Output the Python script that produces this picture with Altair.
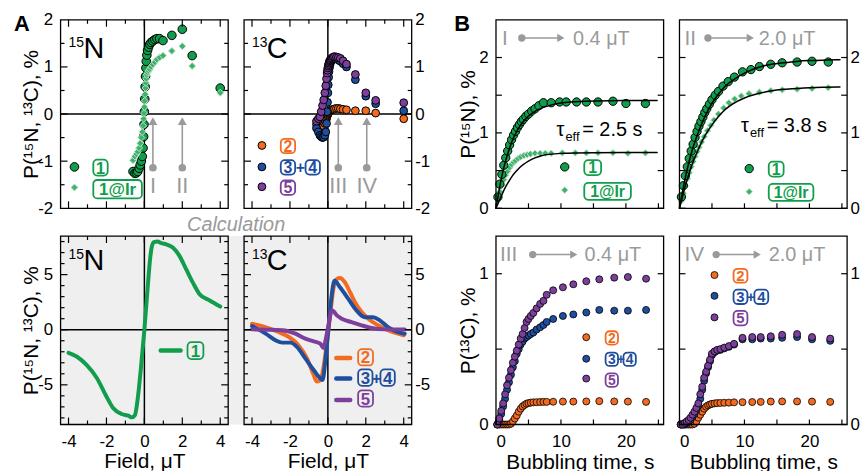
import altair as alt
import pandas as pd

# ======================= DATA =======================
# Panel A (experiment): magnetic field sweep, uT
a_field = [-0.6, -0.5, -0.42, -0.35, -0.28, -0.22, -0.16, -0.11, -0.07, -0.04, -0.02, 0.0,
           0.02, 0.04, 0.06, 0.08, 0.1, 0.13, 0.17, 0.22, 0.28, 0.35, 0.45, 0.55, 0.66, 0.8,
           0.98, 1.45, 2.0, 2.52, 4.0]
a_n15_1 = [-1.22, -1.26, -1.25, -1.22, -1.15, -1.08, -1.0, -0.9, -0.72, -0.48, -0.22, 0.05,
           0.32, 0.58, 0.8, 0.98, 1.12, 1.25, 1.35, 1.42, 1.48, 1.52, 1.55, 1.58, 1.6, 1.6,
           1.56, 1.67, 1.8, 1.24, 0.55]
a_n15_1ir = [-0.98, -0.9, -0.85, -0.8, -0.72, -0.62, -0.5, -0.38, -0.25, -0.1, 0.02, 0.15,
             0.28, 0.42, 0.55, 0.66, 0.75, 0.83, 0.88, 0.92, 0.95, 1.0, 1.05, 1.1, 1.16, 1.2,
             1.24, 1.34, 1.44, 1.02, 0.45]
a_c13_2 = [-0.22, -0.28, -0.3, -0.3, -0.28, -0.25, -0.2, -0.15, -0.1, -0.05, -0.02, 0.0,
           0.02, 0.04, 0.05, 0.06, 0.06, 0.07, 0.08, 0.09, 0.1, 0.11, 0.12, 0.12, 0.11, 0.1,
           0.09, 0.07, 0.07, 0.02, -0.1]
a_c13_34 = [-0.3, -0.38, -0.45, -0.48, -0.5, -0.49, -0.45, -0.38, -0.2, 0.05, 0.25, 0.45,
            0.62, 0.78, 0.9, 0.98, 1.03, 1.08, 1.12, 1.15, 1.17, 1.18, 1.17, 1.15, 1.12, 1.07,
            1.0, 0.73, 0.38, 0.22, 0.07]
a_c13_5 = [-0.15, -0.1, -0.06, 0.05, 0.18, 0.3, 0.45, 0.6, 0.75, 0.87, 0.93, 0.98,
           1.02, 1.05, 1.08, 1.11, 1.13, 1.15, 1.17, 1.19, 1.21, 1.22, 1.21, 1.2, 1.18, 1.13,
           1.06, 0.84, 0.45, 0.29, 0.24]
a_arrow_n15 = [0.45, 2.0]
a_arrow_n15_lab = ["I", "II"]
a_arrow_c13 = [0.55, 2.05]
a_arrow_c13_lab = ["III", "IV"]

# Panel A (calculation)
calc_n15_field = [-4, -3.55, -3.05, -2.5, -2.05, -1.65, -1.2, -0.85, -0.65, -0.5, -0.4, -0.3,
                  -0.2, -0.1, 0, 0.1, 0.2, 0.3, 0.4, 0.5, 0.7, 0.9, 1.15, 1.5, 1.85, 2.2,
                  2.55, 2.9, 3.45, 4]
calc_n15_1 = [-2.1, -2.45, -3.2, -4.4, -5.9, -7.1, -7.65, -7.8, -7.95, -7.75, -6.9, -5.5,
              -3.8, -1.9, 0, 2.2, 4.4, 6.4, 7.6, 7.95, 8.0, 7.85, 7.75, 7.45, 6.7, 5.5,
              4.3, 3.25, 2.65, 2.1]
calc_c13_2_field = [-4, -3.3, -2.6, -2.05, -1.55, -1.1, -0.75, -0.58, -0.4, -0.25, -0.06, 0.12,
                    0.29, 0.47, 0.64, 0.9, 1.17, 1.43, 1.78, 2.13, 2.65, 3.17, 4.0]
calc_c13_2 = [0.54, 0.24, -0.21, -0.66, -1.41, -2.61, -4.1, -4.7, -4.6, -3.6, -1.3, 1.3,
              3.7, 4.6, 4.7, 4.3, 3.4, 2.5, 1.6, 1.0, 0.4, -0.05, -0.5]
calc_c13_34_field = [-4, -3.28, -2.76, -2.41, -1.97, -1.63, -1.19, -0.75, -0.4, -0.28, -0.14,
                     0.03, 0.2, 0.35, 0.64, 1.08, 1.51, 1.95, 2.39, 2.74, 3.17, 3.7, 4.05]
calc_c13_34 = [0.33, -0.36, -0.96, -1.17, -1.17, -1.56, -2.6, -3.66, -4.41, -4.56, -2.9,
               0.1, 3.1, 4.45, 3.85, 2.8, 1.75, 1.14, 1.14, 0.85, 0.24, -0.21, -0.36]
calc_c13_5_field = [-4, -3.28, -2.41, -1.71, -1.19, -0.75, -0.4, -0.23, -0.14, 0.03, 0.17,
                    0.24, 0.47, 0.73, 1.25, 1.78, 2.3, 3.0, 4.05]
calc_c13_5 = [0.03, 0.0, -0.05, -0.36, -0.81, -1.05, -1.26, -1.65, -1.1, 0.4, 1.6,
              1.75, 1.3, 1.0, 0.69, 0.4, 0.15, 0.03, 0.03]

# Panel B, I (0.4 uT), 15N
b1_t_1 = [0.3, 0.6, 0.9, 1.2, 1.5, 1.8, 2.1, 2.4, 2.7, 3.0, 3.3, 3.6, 3.9, 4.2, 4.6, 5.0, 5.5,
          6.0, 6.6, 7.3, 8.5, 9.8, 10.8, 12.4, 13.9, 15.7, 18.0, 20.0, 23.0]
b1_p_1 = [0.15, 0.32, 0.45, 0.57, 0.67, 0.76, 0.84, 0.91, 0.97, 1.02, 1.07, 1.11, 1.15, 1.18,
          1.22, 1.25, 1.29, 1.32, 1.36, 1.40, 1.40, 1.41, 1.41, 1.41, 1.41, 1.41, 1.42, 1.39, 1.39]
b1_t_ir = [0.3, 0.6, 0.9, 1.2, 1.5, 1.8, 2.1, 2.4, 2.7, 3.0, 3.4, 3.8, 4.3, 4.8, 5.3, 6.0, 6.8,
           7.6, 8.5, 10.2, 12.2, 13.9, 15.7, 18.0, 20.3, 23.0]
b1_p_ir = [0.12, 0.22, 0.31, 0.38, 0.44, 0.49, 0.54, 0.58, 0.61, 0.63, 0.66, 0.68, 0.70, 0.71,
           0.72, 0.73, 0.73, 0.73, 0.73, 0.735, 0.735, 0.735, 0.735, 0.735, 0.73, 0.735]
b1_fit_t = [0, 0.5, 1, 1.5, 2, 2.5, 3, 3.5, 4, 5, 6, 7, 8, 10, 12, 15, 20, 24.8]
b1_fit_1 = [0, 0.26, 0.47, 0.64, 0.78, 0.9, 0.99, 1.07, 1.13, 1.23, 1.29, 1.33, 1.36, 1.4,
            1.415, 1.425, 1.43, 1.43]
b1_fit_ir = [0, 0.1, 0.2, 0.29, 0.36, 0.43, 0.48, 0.53, 0.57, 0.63, 0.67, 0.7, 0.715, 0.73,
             0.735, 0.738, 0.74, 0.74]

# Panel B, II (2.0 uT), 15N
b2_t_1 = [0.3, 0.6, 0.9, 1.2, 1.5, 1.8, 2.1, 2.4, 2.7, 3.0, 3.3, 3.6, 3.9, 4.2, 4.6, 5.0, 5.5,
          6.0, 6.7, 7.5, 8.45, 9.7, 11.0, 12.3, 14.05, 15.8, 18.1, 20.4, 22.9]
b2_p_1 = [0.15, 0.3, 0.43, 0.55, 0.66, 0.76, 0.85, 0.94, 1.02, 1.09, 1.15, 1.21, 1.27, 1.32,
          1.38, 1.44, 1.5, 1.55, 1.62, 1.68, 1.74, 1.81, 1.84, 1.88, 1.91, 1.93, 1.94, 1.95, 1.94]
b2_t_ir = [0.3, 0.6, 0.9, 1.2, 1.5, 1.8, 2.1, 2.4, 2.7, 3.0, 3.4, 3.8, 4.3, 4.8, 5.3, 6.0, 6.8,
           7.6, 8.5, 9.5, 10.7, 12.3, 14.05, 15.8, 18.1, 20.4, 22.9]
b2_p_ir = [0.1, 0.2, 0.3, 0.39, 0.47, 0.55, 0.62, 0.69, 0.75, 0.81, 0.88, 0.95, 1.03, 1.1,
           1.17, 1.25, 1.33, 1.4, 1.45, 1.49, 1.52, 1.54, 1.56, 1.57, 1.58, 1.59, 1.6]
b2_fit_t = [0, 0.5, 1, 1.5, 2, 3, 4, 5, 6, 7, 8, 10, 12, 14, 16, 18, 20, 22, 24.7]
b2_fit_1 = [0, 0.24, 0.45, 0.63, 0.79, 1.04, 1.24, 1.4, 1.52, 1.62, 1.69, 1.8, 1.87, 1.91,
            1.93, 1.95, 1.96, 1.965, 1.97]
b2_fit_ir = [0, 0.17, 0.33, 0.47, 0.6, 0.81, 0.98, 1.11, 1.22, 1.31, 1.38, 1.47, 1.52, 1.56,
             1.58, 1.59, 1.6, 1.605, 1.61]

# Panel B, III (0.4 uT), 13C
b3_t = [0.2, 0.5, 0.8, 1.1, 1.4, 1.7, 2.0, 2.3, 2.6, 2.9, 3.2, 3.5, 3.8, 4.1, 4.4, 4.7, 5.0,
        5.35, 5.75, 6.25, 6.8, 7.3, 7.8, 8.8, 10.3, 11.9, 13.9, 15.9, 18.2, 20.3, 23.1]
b3_p_2 = [0, 0, 0, 0, 0, 0, 0, 0.005, 0.02, 0.04, 0.06, 0.085, 0.105, 0.12, 0.13, 0.138,
          0.142, 0.145, 0.147, 0.148, 0.149, 0.15, 0.15, 0.151, 0.152, 0.152, 0.153, 0.155,
          0.153, 0.152, 0.15]
b3_p_34 = [0.0, 0.03, 0.07, 0.12, 0.17, 0.23, 0.28, 0.33, 0.38, 0.42, 0.47, 0.5, 0.53, 0.55,
           0.57, 0.58, 0.59, 0.6, 0.61, 0.63, 0.645, 0.66, 0.68, 0.7, 0.72, 0.73, 0.743, 0.76,
           0.755, 0.755, 0.76]
b3_p_5 = [0.0, 0.04, 0.09, 0.14, 0.2, 0.26, 0.31, 0.36, 0.41, 0.45, 0.49, 0.53, 0.57, 0.6,
          0.64, 0.68, 0.7, 0.72, 0.74, 0.77, 0.8, 0.82, 0.86, 0.89, 0.91, 0.93, 0.95, 0.963,
          0.974, 0.978, 0.967]

# Panel B, IV (2.0 uT), 13C
b4_t = [0.2, 0.5, 0.8, 1.1, 1.4, 1.7, 2.0, 2.3, 2.6, 2.9, 3.2, 3.5, 3.8, 4.1, 4.4, 4.7, 5.0,
        5.4, 5.8, 6.3, 6.9, 7.6, 8.4, 9.7, 11.2, 12.5, 14.05, 15.8, 18.1, 20.4, 23.2]
b4_p_2 = [0, 0, 0, 0, 0, 0, 0, 0.005, 0.02, 0.045, 0.065, 0.085, 0.105, 0.118, 0.127, 0.133,
          0.137, 0.14, 0.142, 0.143, 0.144, 0.145, 0.147, 0.148, 0.149, 0.15, 0.152, 0.153,
          0.153, 0.152, 0.15]
b4_p_34 = [0.0, 0.0, 0.0, 0.01, 0.02, 0.03, 0.05, 0.07, 0.095, 0.125, 0.17, 0.23, 0.29, 0.34,
           0.38, 0.42, 0.46, 0.48, 0.49, 0.495, 0.505, 0.515, 0.53, 0.565, 0.565, 0.57, 0.57,
           0.575, 0.58, 0.565, 0.555]
b4_p_5 = [0.0, 0.0, 0.01, 0.02, 0.03, 0.045, 0.065, 0.085, 0.11, 0.14, 0.2, 0.25, 0.31, 0.35,
          0.39, 0.43, 0.47, 0.485, 0.495, 0.5, 0.51, 0.52, 0.535, 0.575, 0.58, 0.58, 0.585,
          0.595, 0.6, 0.58, 0.57]

# ======================= STYLE =======================
FONT = "Liberation Sans"
GREEN = "#119e4c"
GREEN_IR = "#3bb368"
GREEN_IR_EDGE = "#c4dfcb"
ORANGE = "#f26b21"
BLUE = "#1f4e9e"
PURPLE = "#7c3f9b"
GRAY = "#9a9a9a"
BG = "#efefef"
W, H = 169, 190
GAP = 16
ONE = pd.DataFrame({"k": [0]})


def vtext(x, y, s, size, color="black", align="left", weight="normal", style="normal"):
    return alt.Chart(ONE).mark_text(
        text=s, fontSize=size, color=color, align=align, baseline="alphabetic",
        fontWeight=weight, fontStyle=style, font=FONT
    ).encode(x=alt.value(x), y=alt.value(y))


def vrule(x0, y0, x1, y1, color, sw, cap="butt"):
    return alt.Chart(ONE).mark_rule(color=color, strokeWidth=sw, strokeCap=cap).encode(
        x=alt.value(x0), x2=alt.value(x1), y=alt.value(y0), y2=alt.value(y1))


def vpt(x, y, shape, size, fill, stroke="black", sw=0.0):
    return alt.Chart(ONE).mark_point(
        shape=shape, size=size, filled=True, fill=fill, stroke=stroke, strokeWidth=sw, opacity=1
    ).encode(x=alt.value(x), y=alt.value(y))


def vbox(x0, y0, x1, y1, s, color, size):
    r = alt.Chart(ONE).mark_rect(filled=False, stroke=color, strokeWidth=1.8, cornerRadius=4).encode(
        x=alt.value(x0), x2=alt.value(x1), y=alt.value(y0), y2=alt.value(y1))
    t = vtext((x0 + x1) / 2, (y0 + y1) / 2 + size * 0.36, s, size, color=color,
              align="center", weight="bold")
    return [r, t]


def vbg(x1):
    return alt.Chart(ONE).mark_rect(fill=BG, strokeWidth=0).encode(
        x=alt.value(0), x2=alt.value(x1), y=alt.value(0), y2=alt.value(H))


def frame():
    return alt.Chart(ONE).mark_rect(filled=False, stroke="black", strokeWidth=1.3).encode(
        x=alt.value(0), x2=alt.value(W), y=alt.value(0), y2=alt.value(H))


def yaxis(orient, values, title=None, tx=-23):
    kw = dict(orient=orient, values=values, labelExpr="'' + datum.value", domain=False,
              ticks=False, tickSize=0, grid=False, labelFontSize=17,
              labelPadding=8 if orient == "left" else 3)
    if title:
        kw.update(title=title, titleFontSize=21, titleFontWeight="normal", titleAngle=270,
                  titleBaseline="alphabetic", titleAlign="center", titleX=tx, titleY=H / 2)
    else:
        kw.update(title=None)
    return alt.Axis(**kw)


def xaxis(values, title, ty=43.5):
    return alt.Axis(orient="bottom", values=values, labelExpr="'' + datum.value", domain=False,
                    ticks=False, tickSize=0, grid=False, labelFontSize=17, labelPadding=9,
                    title=title, titleFontSize=21, titleFontWeight="normal",
                    titleBaseline="alphabetic", titleAlign="center", titleX=W / 2, titleY=ty)


def tick_layers(X, Y, xmaj=(), xmin=(), ymaj=(), ymin=(), xlen=(7, 4), ylen=(7, 4), sides="lrbt"):
    out = []
    for vals, L in ((ymaj, ylen[0]), (ymin, ylen[1])):
        if not vals:
            continue
        df = pd.DataFrame({"y": list(vals)})
        if "l" in sides:
            out.append(alt.Chart(df).mark_rule(color="black", strokeWidth=1.2).encode(
                y=Y("y"), x=alt.value(0), x2=alt.value(L)))
        if "r" in sides:
            out.append(alt.Chart(df).mark_rule(color="black", strokeWidth=1.2).encode(
                y=Y("y"), x=alt.value(W - L), x2=alt.value(W)))
    for vals, L in ((xmaj, xlen[0]), (xmin, xlen[1])):
        if not vals:
            continue
        df = pd.DataFrame({"x": list(vals)})
        if "b" in sides:
            out.append(alt.Chart(df).mark_rule(color="black", strokeWidth=1.2).encode(
                x=X("x"), y=alt.value(H), y2=alt.value(H - L)))
        if "t" in sides:
            out.append(alt.Chart(df).mark_rule(color="black", strokeWidth=1.2).encode(
                x=X("x"), y=alt.value(0), y2=alt.value(L)))
    return out


def make_enc(xdom, ydom, xax, yax):
    sx = alt.Scale(domain=xdom, nice=False, zero=False)
    sy = alt.Scale(domain=ydom, nice=False, zero=False)

    def X(f):
        return alt.X(f, type="quantitative", scale=sx, axis=xax)

    def Y(f):
        return alt.Y(f, type="quantitative", scale=sy, axis=yax)
    return X, Y


def scatter(X, Y, xs, ys, shape, size, fill, stroke="black", sw=1.0):
    df = pd.DataFrame({"x": xs, "y": ys})
    return alt.Chart(df).mark_point(shape=shape, size=size, filled=True, fill=fill, stroke=stroke,
                                    strokeWidth=sw, opacity=1).encode(x=X("x"), y=Y("y"))


def curve(X, Y, xs, ys, color, sw, interp="monotone"):
    df = pd.DataFrame({"x": xs, "y": ys})
    return alt.Chart(df).mark_line(color=color, strokeWidth=sw, interpolate=interp,
                                   strokeCap="round", strokeJoin="round").encode(
        x=X("x"), y=Y("y"))


def zero_lines(X, Y):
    return [alt.Chart(pd.DataFrame({"x": [0]})).mark_rule(color="black", strokeWidth=1.5).encode(x=X("x")),
            alt.Chart(pd.DataFrame({"y": [0]})).mark_rule(color="black", strokeWidth=1.5).encode(y=Y("y"))]


def field_arrows(X, Y, xs, labels):
    n = len(xs)
    df = pd.DataFrame({"x": xs, "lab": labels, "y0": [-1.14] * n, "y1": [-0.22] * n,
                       "yt": [-0.15] * n, "yl": [-1.67] * n})
    b = alt.Chart(df)
    return [
        b.mark_rule(color=GRAY, strokeWidth=1.6).encode(x=X("x"), y=Y("y0"), y2=alt.Y2("y1")),
        b.mark_point(shape="triangle-up", size=80, filled=True, fill=GRAY, strokeWidth=0,
                     opacity=1).encode(x=X("x"), y=Y("yt")),
        b.mark_point(shape="circle", size=60, filled=True, fill=GRAY, strokeWidth=0,
                     opacity=1).encode(x=X("x"), y=Y("y0")),
        b.mark_text(fontSize=22, color=GRAY, font=FONT, align="center",
                    baseline="alphabetic").encode(x=X("x"), y=Y("yl"), text="lab:N"),
    ]


def nucleus(mass, sym, y_base):
    return [vtext(8, y_base - 11, mass, 14), vtext(23, y_base, sym, 29)]


def b_header(num, x_num, x_dot, x_tip, x_txt, y_mid, y_base, txt):
    return [vtext(x_num, y_base, num, 21, GRAY),
            vrule(x_dot, y_mid, x_tip - 6, y_mid, GRAY, 1.5),
            vpt(x_tip - 3.6, y_mid, "triangle-right", 70, GRAY),
            vpt(x_dot, y_mid, "circle", 55, GRAY),
            vtext(x_txt, y_base, txt, 20, GRAY)]


def tau(x, y, val):
    return [vtext(x, y, "τ", 20), vtext(x + 9, y + 5, "eff", 13), vtext(x + 26, y, "= " + val, 20)]


def leg34(x0, y0, y1, w, plus_w, color, size):
    out = vbox(x0, y0, x0 + w, y1, "3", color, size)
    out.append(vtext(x0 + w + plus_w / 2, (y0 + y1) / 2 + size * 0.36, "+", size, color,
                     align="center", weight="bold"))
    out += vbox(x0 + w + plus_w, y0, x0 + 2 * w + plus_w, y1, "4", color, size)
    return out


A_XDOM = [-4.42, 4.42]
B_XDOM = [0, 25.8]

# ======================= PANELS =======================
# A1: 15N experiment
X, Y = make_enc(A_XDOM, [-2, 2], None, yaxis("left", [-2, -1, 0, 1, 2], "P(¹⁵N, ¹³C), %"))
L = zero_lines(X, Y)
L += field_arrows(X, Y, a_arrow_n15, a_arrow_n15_lab)
L.append(scatter(X, Y, a_field, a_n15_1, "circle", 75, GREEN))
L.append(scatter(X, Y, a_field, a_n15_1ir, "diamond", 50, GREEN_IR, GREEN_IR_EDGE, 1.0))
L += [vpt(14, 148.3, "circle", 75, GREEN, "black", 1.0),
      vpt(14, 169, "diamond", 50, GREEN_IR, GREEN_IR_EDGE, 1.0)]
L += vbox(33, 141, 47.5, 157, "1", GREEN, 17)
L += vbox(33, 161.5, 82, 180, "1@Ir", GREEN, 17)
L += nucleus("15", "N", 38)
L.append(vtext(-47, 11, "A", 22, weight="bold"))
L += tick_layers(X, Y, xmaj=[-4, -2, 0, 2, 4], xmin=[-3, -1, 1, 3],
                 ymaj=[-1, 0, 1], ymin=[-1.5, -0.5, 0.5, 1.5])
L.append(frame())
A1 = alt.layer(*L).properties(width=W, height=H)

# A2: 13C experiment
X, Y = make_enc(A_XDOM, [-2, 2], None, yaxis("right", [-2, -1, 0, 1, 2]))
L = zero_lines(X, Y)
L += field_arrows(X, Y, a_arrow_c13, a_arrow_c13_lab)
L.append(scatter(X, Y, a_field, a_c13_2, "circle", 62, ORANGE))
L.append(scatter(X, Y, a_field, a_c13_34, "circle", 62, BLUE))
L.append(scatter(X, Y, a_field, a_c13_5, "circle", 62, PURPLE))
L += [vpt(18, 126.7, "circle", 62, ORANGE, "black", 1.0),
      vpt(18, 148.3, "circle", 62, BLUE, "black", 1.0),
      vpt(18, 168.3, "circle", 62, PURPLE, "black", 1.0)]
L += vbox(37, 120, 51.5, 134.5, "2", ORANGE, 16)
L += leg34(37, 141.5, 156, 14.5, 10.5, BLUE, 16)
L += vbox(37, 162, 51.5, 176.5, "5", PURPLE, 16)
L += nucleus("13", "C", 38)
L += tick_layers(X, Y, xmaj=[-4, -2, 0, 2, 4], xmin=[-3, -1, 1, 3],
                 ymaj=[-1, 0, 1], ymin=[-1.5, -0.5, 0.5, 1.5])
L.append(frame())
A2 = alt.layer(*L).properties(width=W, height=H)

# A3: 15N calculation
X, Y = make_enc(A_XDOM, [-8.6, 8.5], xaxis([-4, -2, 0, 2, 4], "Field, μT"),
                yaxis("left", [-5, 0, 5], "P(¹⁵N, ¹³C), %"))
L = [vbg(W + GAP)]
L += zero_lines(X, Y)
L.append(curve(X, Y, calc_n15_field, calc_n15_1, GREEN, 4))
L.append(vrule(101, 115.3, 121, 115.3, GREEN, 4.5, "round"))
L += vbox(128, 107, 144, 124, "1", GREEN, 17)
L += nucleus("15", "N", 34)
L.append(vtext(177, -5, "Calculation", 20, GRAY, align="center", style="italic"))
L += tick_layers(X, Y, xmaj=[-4, -2, 0, 2, 4], xmin=[-3, -1, 1, 3],
                 ymaj=[-5, 0, 5], ymin=[-8, -7, -6, -4, -3, -2, -1, 1, 2, 3, 4, 6, 7, 8])
L.append(frame())
A3 = alt.layer(*L).properties(width=W, height=H)

# A4: 13C calculation
X, Y = make_enc(A_XDOM, [-8.6, 8.5], xaxis([-4, -2, 0, 2, 4], "Field, μT"),
                yaxis("right", [-5, 0, 5]))
L = [vbg(W)]
L += zero_lines(X, Y)
L.append(curve(X, Y, calc_c13_2_field, calc_c13_2, ORANGE, 4))
L.append(curve(X, Y, calc_c13_34_field, calc_c13_34, BLUE, 4))
L.append(curve(X, Y, calc_c13_5_field, calc_c13_5, PURPLE, 4))
L += [vrule(93, 123, 107, 123, ORANGE, 4.5, "round"),
      vrule(93, 143.7, 107, 143.7, BLUE, 4.5, "round"),
      vrule(93, 165.3, 107, 165.3, PURPLE, 4.5, "round")]
L += vbox(115, 114, 130, 130.5, "2", ORANGE, 17)
L += leg34(115, 134.5, 151, 14.5, 8, BLUE, 17)
L += vbox(115, 155.5, 130, 172, "5", PURPLE, 17)
L += nucleus("13", "C", 34)
L += tick_layers(X, Y, xmaj=[-4, -2, 0, 2, 4], xmin=[-3, -1, 1, 3],
                 ymaj=[-5, 0, 5], ymin=[-8, -7, -6, -4, -3, -2, -1, 1, 2, 3, 4, 6, 7, 8])
L.append(frame())
A4 = alt.layer(*L).properties(width=W, height=H)

# B1: I -> 0.4 uT, 15N
X, Y = make_enc(B_XDOM, [0, 2.5], None, yaxis("left", [0, 1, 2], "P(¹⁵N), %", tx=-22))
L = [scatter(X, Y, b1_t_ir, b1_p_ir, "diamond", 45, GREEN_IR, GREEN_IR_EDGE, 1.0),
     scatter(X, Y, b1_t_1, b1_p_1, "circle", 70, GREEN),
     curve(X, Y, b1_fit_t, b1_fit_1, "black", 1.5, "basis"),
     curve(X, Y, b1_fit_t, b1_fit_ir, "black", 1.5, "basis")]
L += b_header("I", 6, 26, 69, 77.7, 18.3, 25.7, "0.4 μT")
L += tau(61, 116.7, "2.5 s")
L += [vpt(69.3, 148.3, "circle", 70, GREEN, "black", 1.0),
      vpt(69.3, 171.7, "diamond", 45, GREEN_IR, GREEN_IR_EDGE, 1.0)]
L += vbox(89, 141.5, 106, 156.5, "1", GREEN, 16)
L += vbox(89, 164.5, 136, 181.5, "1@Ir", GREEN, 16)
L.append(vtext(-42, 11, "B", 22, weight="bold"))
L += tick_layers(X, Y, xmaj=[0, 5, 10, 15, 20, 25], ymaj=[0, 1, 2], ymin=[0.5, 1.5],
                 xlen=(5, 5), ylen=(6, 6), sides="lrb")
L.append(frame())
B1 = alt.layer(*L).properties(width=W, height=H)

# B2: II -> 2.0 uT, 15N
X, Y = make_enc(B_XDOM, [0, 2.5], None, yaxis("right", [0, 1, 2]))
L = [scatter(X, Y, b2_t_ir, b2_p_ir, "diamond", 45, GREEN_IR, GREEN_IR_EDGE, 1.0),
     scatter(X, Y, b2_t_1, b2_p_1, "circle", 70, GREEN),
     curve(X, Y, b2_fit_t, b2_fit_1, "black", 1.5, "basis"),
     curve(X, Y, b2_fit_t, b2_fit_ir, "black", 1.5, "basis")]
L += b_header("II", 5, 28.7, 75, 80, 18.3, 25.7, "2.0 μT")
L += tau(62, 113.3, "3.8 s")
L += [vpt(70.3, 150, "circle", 70, GREEN, "black", 1.0),
      vpt(70.3, 173.3, "diamond", 45, GREEN_IR, GREEN_IR_EDGE, 1.0)]
L += vbox(90, 143, 105, 158, "1", GREEN, 16)
L += vbox(90, 165.5, 135, 182.5, "1@Ir", GREEN, 16)
L += tick_layers(X, Y, xmaj=[0, 5, 10, 15, 20, 25], ymaj=[0, 1, 2], ymin=[0.5, 1.5],
                 xlen=(5, 5), ylen=(6, 6), sides="lrb")
L.append(frame())
B2 = alt.layer(*L).properties(width=W, height=H)

# B3: III -> 0.4 uT, 13C
X, Y = make_enc(B_XDOM, [0, 1.25], xaxis([0, 10, 20], "Bubbling time, s", 44),
                yaxis("left", [0, 1], "P(¹³C), %", tx=-22))
L = [scatter(X, Y, b3_t, b3_p_2, "circle", 50, ORANGE, "black", 0.8),
     scatter(X, Y, b3_t, b3_p_34, "circle", 50, BLUE, "black", 0.8),
     scatter(X, Y, b3_t, b3_p_5, "circle", 50, PURPLE, "black", 0.8)]
L += b_header("III", 4, 37, 82, 89.3, 18.7, 25.3, "0.4 μT")
L += [vpt(91, 102, "circle", 50, ORANGE, "black", 0.8),
      vpt(91, 123.7, "circle", 50, BLUE, "black", 0.8),
      vpt(91, 143.7, "circle", 50, PURPLE, "black", 0.8)]
L += vbox(110.5, 96, 123, 109.5, "2", ORANGE, 14)
L += leg34(110.5, 117.5, 131, 12.5, 5.5, BLUE, 14)
L += vbox(110.5, 138.5, 123, 152, "5", PURPLE, 14)
L += tick_layers(X, Y, xmaj=[0, 5, 10, 15, 20, 25], ymaj=[0, 1], ymin=[0.5],
                 xlen=(5, 5), ylen=(6, 6), sides="lrb")
L.append(frame())
B3 = alt.layer(*L).properties(width=W, height=H)

# B4: IV -> 2.0 uT, 13C
X, Y = make_enc(B_XDOM, [0, 1.25], xaxis([0, 10, 20], "Bubbling time, s", 44),
                yaxis("right", [0, 1]))
L = [scatter(X, Y, b4_t, b4_p_2, "circle", 50, ORANGE, "black", 0.8),
     scatter(X, Y, b4_t, b4_p_34, "circle", 50, BLUE, "black", 0.8),
     scatter(X, Y, b4_t, b4_p_5, "circle", 50, PURPLE, "black", 0.8)]
L += b_header("IV", 5, 37, 82, 90, 18.7, 25.3, "2.0 μT")
L += [vpt(35.3, 39.3, "circle", 50, ORANGE, "black", 0.8),
      vpt(35.3, 60.3, "circle", 50, BLUE, "black", 0.8),
      vpt(35.3, 82, "circle", 50, PURPLE, "black", 0.8)]
L += vbox(54.5, 33, 68.5, 47, "2", ORANGE, 15)
L += leg34(54.5, 54, 68.5, 14, 7, BLUE, 15)
L += vbox(54.5, 75.5, 68.5, 90, "5", PURPLE, 15)
L += tick_layers(X, Y, xmaj=[0, 5, 10, 15, 20, 25], ymaj=[0, 1], ymin=[0.5],
                 xlen=(5, 5), ylen=(6, 6), sides="lrb")
L.append(frame())
B4 = alt.layer(*L).properties(width=W, height=H)


def spacer():
    return alt.Chart(ONE).mark_point(opacity=0).encode(
        x=alt.value(0), y=alt.value(0)).properties(width=53, height=H)


chart = alt.ConcatChart(
    concat=[A1, A2, spacer(), B1, B2, A3, A4, spacer(), B3, B4],
    columns=5,
    spacing={"row": 28, "column": GAP},
    bounds="flush",
    align="each",
).properties(
    padding={"left": 5, "top": 0, "right": 0, "bottom": 0},
    background="white",
).configure(
    font=FONT
).configure_axis(
    labelFont=FONT, titleFont=FONT, labelColor="black", titleColor="black"
).configure_view(
    stroke="transparent"
)

chart.save("out.html", embed_options={"renderer": "svg", "actions": False})
